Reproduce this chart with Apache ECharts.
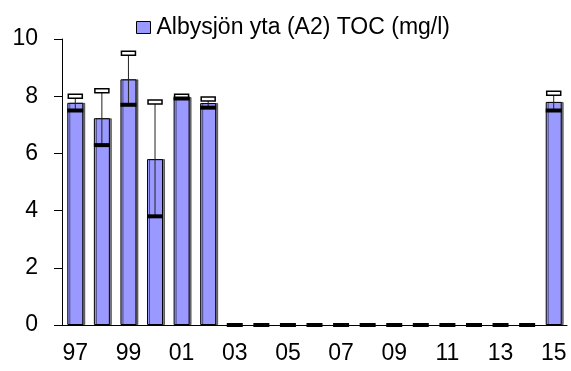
<!DOCTYPE html>
<html>
<head>
<meta charset="utf-8">
<script src="https://cdn.jsdelivr.net/npm/echarts@6/dist/echarts.min.js"></script>
<style>
  html, body { margin: 0; padding: 0; background: #fff; }
  #chart { width: 571px; height: 371px; }
</style>
</head>
<body>
<div id="chart"></div>
<script>
// Year labels (two-digit) along the category axis
const years = ['97','98','99','00','01','02','03','04','05','06','07','08','09','10','11','12','13','14','15'];
// Annual mean TOC (mg/l)
const meanValues = [7.77, 7.23, 8.59, 5.8, 7.97, 7.76, 0, 0, 0, 0, 0, 0, 0, 0, 0, 0, 0, 0, 7.8];
// Annual minimum (thick black marker)
const minValues  = [7.5, 6.29, 7.7, 3.8, 7.92, 7.6, 0, 0, 0, 0, 0, 0, 0, 0, 0, 0, 0, 0, 7.5];
// Annual maximum (open cap)
const maxValues  = [8.0, 8.19, 9.5, 7.8, 8.0, 7.9, 0, 0, 0, 0, 0, 0, 0, 0, 0, 0, 0, 0, 8.1];
// Value axis tick labels
const yTicks = [0, 2, 4, 6, 8, 10];

const seriesName = 'Albysjön yta (A2) TOC (mg/l)';
const font = 'Liberation Sans, Arial, sans-serif';

const rangeData = years.map((y, i) => [i, minValues[i], maxValues[i], meanValues[i]]);

const chart = echarts.init(document.getElementById('chart'), null, { renderer: 'canvas' });
chart.setOption({
  animation: false,
  backgroundColor: '#fff',
  legend: {
    data: [{ name: seriesName, icon: 'rect' }],
    left: 131,
    top: 11,
    itemWidth: 14,
    itemHeight: 12,
    itemGap: 4,
    textStyle: { fontFamily: font, fontSize: 23, color: '#000', padding: [0, 0, 0, 1] },
    itemStyle: { borderColor: '#000', borderWidth: 1 }
  },
  grid: { left: 62, right: 4, top: 39, bottom: 46, containLabel: false },
  xAxis: {
    type: 'category',
    data: years,
    axisLine: { lineStyle: { color: '#000', width: 1 } },
    axisTick: { show: false },
    axisLabel: {
      interval: 1,
      fontFamily: font, fontSize: 23, color: '#000', margin: 17
    }
  },
  yAxis: {
    type: 'value',
    min: 0, max: 10, interval: 2,
    axisLine: { show: true, lineStyle: { color: '#000', width: 1 } },
    axisTick: { show: true, length: 8, lineStyle: { color: '#000' } },
    splitLine: { show: false },
    axisLabel: {
      fontFamily: font, fontSize: 23, color: '#000', margin: 24,
      formatter: v => (yTicks.includes(v) ? String(v) : '')
    }
  },
  series: [
    {
      name: seriesName,
      type: 'bar',
      data: meanValues.map(v => (v > 0 ? v : null)),
      barWidth: 16,
      itemStyle: {
        color: '#9999FF',
        borderColor: '#000',
        borderWidth: 1,
        shadowColor: 'rgba(0,0,0,0.5)',
        shadowOffsetX: 2,
        shadowOffsetY: 0,
        shadowBlur: 0
      },
      z: 2
    },
    {
      name: 'range',
      type: 'custom',
      data: rangeData,
      z: 3,
      renderItem: function (params, api) {
        const idx = api.value(0);
        const pMin = api.coord([idx, api.value(1)]);
        const pMax = api.coord([idx, api.value(2)]);
        const x = pMin[0];
        const children = [];
        // whisker from minimum to maximum
        if (pMax[1] < pMin[1]) {
          children.push({
            type: 'line',
            shape: { x1: x, y1: pMin[1], x2: x, y2: pMax[1] },
            style: { stroke: '#222', lineWidth: 1 }
          });
        }
        // open cap at maximum
        if (api.value(2) > 0) {
          children.push({
            type: 'rect',
            shape: { x: x - 7, y: pMax[1] - 2, width: 14, height: 4 },
            style: { fill: '#fff', stroke: '#000', lineWidth: 1.5 }
          });
        }
        // thick minimum marker
        children.push({
          type: 'rect',
          shape: { x: x - 8, y: pMin[1] - 2, width: 16, height: 4 },
          style: { fill: '#000' }
        });
        return { type: 'group', children: children };
      }
    }
  ]
});
</script>
</body>
</html>
